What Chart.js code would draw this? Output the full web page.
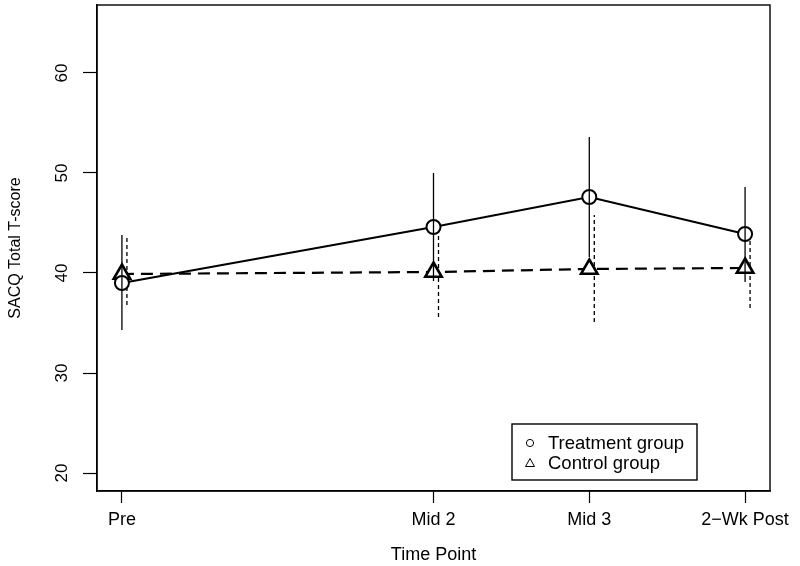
<!DOCTYPE html>
<html>
<head>
<meta charset="utf-8">
<script src="https://cdn.jsdelivr.net/npm/chart.js@4.4.1/dist/chart.umd.min.js"></script>
<style>
  html, body { margin: 0; padding: 0; background: #fff; }
</style>
</head>
<body>
<canvas id="myChart" width="800" height="566"></canvas>
<script>
// time points (x position on the axis) and their labels
const timeX = [1, 3, 4, 5];
const timeLabels = ['Pre', 'Mid 2', 'Mid 3', '2\u2212Wk Post'];
const yTicks = [20, 30, 40, 50, 60];

// treatment group: mean and error bar ends
const treatmentMean = [39.0, 44.6, 47.6, 43.9];
const treatmentLower = [34.3, 39.2, 41.6, 39.1];
const treatmentUpper = [43.8, 50.0, 53.6, 48.6];

// control group
const controlMean = [39.9, 40.1, 40.4, 40.5];
const controlLower = [36.8, 35.6, 35.1, 36.5];
const controlUpper = [43.5, 44.6, 45.8, 44.5];

const FONT = 'Liberation Sans, Arial, Helvetica, sans-serif';

(() => {
    'use strict'

    const toPoints = ys => timeX.map((x, i) => ({ x: x, y: ys[i] }))

    // vertical error bars, drawn through the chart's own scales
    const drawBars = (chart, ds) => {
        const { ctx, scales: { x, y } } = chart
        ctx.save()
        ctx.strokeStyle = '#000'
        ctx.lineWidth = 1.3
        ctx.setLineDash(ds.errDash)
        timeX.forEach((tx, i) => {
            const px = x.getPixelForValue(tx) + ds.errShift
            ctx.beginPath()
            ctx.moveTo(px, y.getPixelForValue(ds.errLow[i]))
            ctx.lineTo(px, y.getPixelForValue(ds.errHigh[i]))
            ctx.stroke()
        })
        ctx.restore()
    }

    const errorBars = {
        id: 'errorBars',
        beforeDatasetsDraw(chart) { drawBars(chart, chart.data.datasets[1]) },
        afterDatasetsDraw(chart) { drawBars(chart, chart.data.datasets[0]) }
    }

    // R-style box around the plot region
    const plotBox = {
        id: 'plotBox',
        afterDraw(chart) {
            const { ctx, chartArea: a } = chart
            ctx.save()
            ctx.strokeStyle = '#000'
            ctx.lineWidth = 1.4
            ctx.strokeRect(a.left, a.top, a.right - a.left, a.bottom - a.top)
            ctx.restore()
        }
    }

    // legend box inside the plot, bottom right
    const boxLegend = {
        id: 'boxLegend',
        afterDraw(chart) {
            const { ctx } = chart
            const bx = 512, by = 424, bw = 185, bh = 56
            ctx.save()
            ctx.fillStyle = '#fff'
            ctx.fillRect(bx, by, bw, bh)
            ctx.strokeStyle = '#000'
            ctx.lineWidth = 1.4
            ctx.strokeRect(bx, by, bw, bh)
            ctx.font = '18.5px ' + FONT
            ctx.textBaseline = 'middle'
            ctx.fillStyle = '#000'
            chart.data.datasets.forEach((ds, i) => {
                const cy = by + 19 + i * 20
                ctx.lineWidth = 1
                ctx.beginPath()
                if (ds.pointStyle === 'circle') {
                    ctx.arc(bx + 18, cy, 3.6, 0, Math.PI * 2)
                } else {
                    ctx.moveTo(bx + 18, cy - 4.5)
                    ctx.lineTo(bx + 22.5, cy + 3.5)
                    ctx.lineTo(bx + 13.5, cy + 3.5)
                    ctx.closePath()
                }
                ctx.stroke()
                ctx.fillText(ds.label, bx + 36, cy + 1)
            })
            ctx.restore()
        }
    }

    const ctx = document.getElementById('myChart')

    new Chart(ctx, {
        type: 'line',
        data: {
            datasets: [{
                label: 'Treatment group',
                data: toPoints(treatmentMean),
                errLow: treatmentLower,
                errHigh: treatmentUpper,
                errShift: 0,
                errDash: [],
                borderColor: '#000',
                borderWidth: 2.2,
                pointStyle: 'circle',
                pointRadius: 7,
                pointBorderWidth: 2,
                pointBackgroundColor: '#fff',
                pointBorderColor: '#000',
                tension: 0
            }, {
                label: 'Control group',
                data: toPoints(controlMean),
                errLow: controlLower,
                errHigh: controlUpper,
                errShift: 5,
                errDash: [4, 3],
                borderColor: '#000',
                borderWidth: 2.2,
                borderDash: [12, 7],
                pointStyle: 'triangle',
                pointRadius: 9.5,
                pointBorderWidth: 2.6,
                pointBackgroundColor: '#fff',
                pointBorderColor: '#000',
                tension: 0
            }]
        },
        options: {
            responsive: false,
            animation: false,
            events: [],
            layout: { autoPadding: false, padding: { top: 5, right: 30, bottom: 0, left: 0 } },
            plugins: {
                legend: { display: false },
                tooltip: { enabled: false }
            },
            scales: {
                x: {
                    type: 'linear',
                    min: 0.84,
                    max: 5.16,
                    afterBuildTicks: s => { s.ticks = timeX.map(v => ({ value: v })) },
                    afterFit: s => {
                        s.height = 75
                        s.paddingLeft = 0
                        s.paddingRight = 0
                    },
                    grid: {
                        drawOnChartArea: false,
                        tickLength: 12,
                        tickColor: '#000',
                        tickWidth: 1.2
                    },
                    border: { display: true, color: '#000', width: 1.4 },
                    ticks: {
                        autoSkip: false,
                        maxRotation: 0,
                        padding: 6,
                        color: '#000',
                        font: { family: FONT, size: 18 },
                        callback: v => timeLabels[timeX.indexOf(v)]
                    },
                    title: {
                        display: true,
                        text: 'Time Point',
                        color: '#000',
                        font: { family: FONT, size: 18 },
                        padding: { top: 0, bottom: 0 }
                    }
                },
                y: {
                    type: 'linear',
                    min: 18.2,
                    max: 66.8,
                    afterBuildTicks: s => { s.ticks = yTicks.map(v => ({ value: v })) },
                    afterFit: s => {
                        s.width = 97
                        s.paddingTop = 0
                        s.paddingBottom = 0
                    },
                    grid: {
                        drawOnChartArea: false,
                        tickLength: 14,
                        tickColor: '#000',
                        tickWidth: 1.2
                    },
                    border: { display: true, color: '#000', width: 1.4 },
                    ticks: {
                        minRotation: 90,
                        maxRotation: 90,
                        crossAlign: 'center',
                        padding: 11,
                        color: '#000',
                        font: { family: FONT, size: 17 }
                    },
                    title: {
                        display: true,
                        text: 'SACQ Total T-score',
                        color: '#000',
                        font: { family: FONT, size: 16 },
                        padding: { top: 6, bottom: 0 }
                    }
                }
            }
        },
        plugins: [errorBars, plotBox, boxLegend]
    })
})()
</script>
</body>
</html>
